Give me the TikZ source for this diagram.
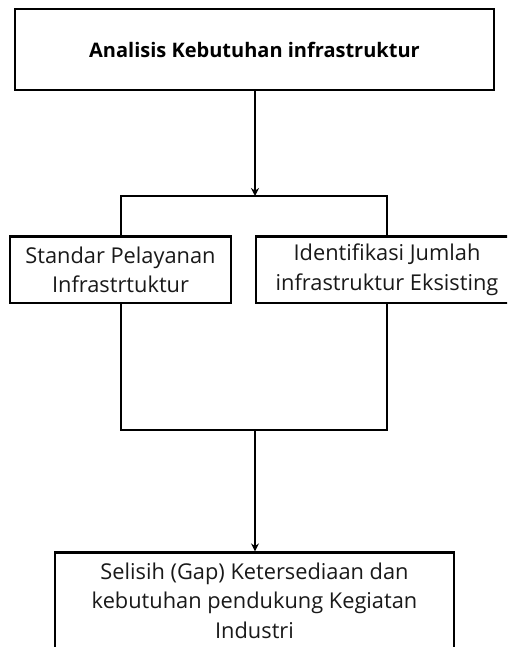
\documentclass[tikz,border=0pt]{standalone}
\usepackage{fontspec}
\setmainfont{Open Sans}
\usetikzlibrary{arrows.meta}
\tikzset{every picture/.style={line width=2.2pt}}
\tikzset{
  stepbox/.style={draw, rectangle, inner sep=0pt, align=center, font=\fontsize{21.8}{29.5}\selectfont, text={rgb,255:red,25;green,25;blue,25}},
  flowarrow/.style={-{Stealth[length=8pt,width=8pt]}, line width=2pt},
  flowline/.style={line width=2pt}
}

\begin{document}
\begin{tikzpicture}[x=1pt,y=1pt,yscale=-1,xscale=1]
%set diagram to 507 x 647
\clip (0,0) rectangle (507,647);
\fill[white] (0,0) rectangle (507,647);

%Shape: Rectangle
\node[stepbox, minimum width=479pt, minimum height=81pt, font=\fontsize{20}{29}\selectfont\bfseries, text=black] (analisis) at (254.5,49.5) {Analisis Kebutuhan infrastruktur};
%Shape: Rectangle
\node[stepbox, minimum width=221pt, minimum height=66.5pt] (standar) at (120.5,269.8) {Standar Pelayanan\\Infrastrtuktur};
%Shape: Rectangle
\node[stepbox, minimum width=262pt, minimum height=66.5pt] (eksisting) at (387,269.8) {Identifikasi Jumlah\\infrastruktur Eksisting};
%Shape: Rectangle
\node[stepbox, minimum width=399pt, minimum height=96pt] (selisih) at (254.5,600.5) {Selisih (Gap) Ketersediaan dan\\kebutuhan pendukung Kegiatan\\Industri};

\coordinate (split) at (255,196);
\coordinate (merge) at (255,430);

%Straight Lines
\draw[flowarrow] (analisis.south -| split) -- (split);
\draw[flowline] (standar.north) |- (split) -| (eksisting.north);
%Straight Lines
\draw[flowline] (standar.south) |- (merge) -| (eksisting.south);
\draw[flowarrow] (merge) -- (selisih.north -| merge);
\end{tikzpicture}
\end{document}
